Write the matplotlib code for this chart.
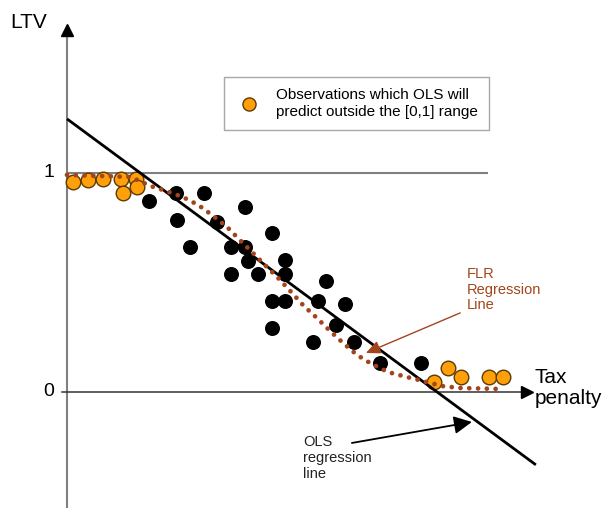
import matplotlib
matplotlib.use("Agg")
import matplotlib.pyplot as plt

plt.rcParams['font.family'] = ['Liberation Sans', 'DejaVu Sans']

# ---- data (x: tax penalty, arbitrary units; y: LTV) ----
black_x = [1.76, 2.33, 2.93, 2.36, 3.81, 3.21, 2.63, 3.51, 3.81, 4.39, 3.88, 4.67, 3.51,
           4.09, 4.67, 5.55, 4.39, 4.67, 5.37, 5.95, 4.39, 5.76, 5.27, 6.15, 6.70, 7.58]
black_y = [0.872, 0.909, 0.909, 0.785, 0.845, 0.776, 0.662, 0.662, 0.662, 0.726, 0.598, 0.603, 0.539,
           0.539, 0.539, 0.507, 0.416, 0.416, 0.416, 0.402, 0.292, 0.306, 0.228, 0.228, 0.132, 0.132]

orange_x = [0.13, 0.45, 0.77, 1.16, 1.20, 1.48, 1.50, 7.86, 8.16, 8.44, 9.04, 9.34]
orange_y = [0.960, 0.968, 0.973, 0.973, 0.909, 0.973, 0.936, 0.046, 0.110, 0.068, 0.068, 0.068]

ols_x = [0.0, 10.04]
ols_y = [1.247, -0.333]

flr_x = [0.0, 1.35, 1.56, 1.78, 2.12, 2.48, 2.81, 3.13, 3.43, 3.70, 3.98, 4.26, 4.54,
         4.82, 5.07, 5.35, 5.63, 5.91, 6.21, 6.49, 6.87, 7.28, 7.62, 8.03, 8.42, 9.21]
flr_y = [0.991, 0.982, 0.963, 0.941, 0.918, 0.890, 0.854, 0.804, 0.753, 0.694, 0.635, 0.575, 0.516,
         0.452, 0.393, 0.338, 0.279, 0.224, 0.169, 0.132, 0.091, 0.068, 0.050, 0.027, 0.018, 0.014]

legend_label = "Observations which OLS will\npredict outside the [0,1] range"

BROWN = '#a3451c'
ORANGE = '#ff9f0a'
GRAY = '#808080'

fig = plt.figure(figsize=(6.02, 5.08), dpi=100)
ax = fig.add_axes([0, 0, 1, 1])
ax.set_xlim(-1.435, 11.456)
ax.set_ylim(-0.530, 1.790)
ax.axis('off')

# axes lines
ax.plot([0, 0], [-0.53, 1.63], color=GRAY, lw=1.5, zorder=1)
ax.plot([0], [1.655], marker='^', ms=8.5, color='black', clip_on=False, zorder=1)
ax.plot([-0.1, 9.8], [0, 0], color='#333333', lw=1.1, zorder=1)
ax.plot([9.86], [0], marker='>', ms=8.5, color='black', clip_on=False, zorder=1)
ax.plot([0, 8.99], [1, 1], color=GRAY, lw=1.5, zorder=1)

# tick labels
ax.text(-0.27, 1.0, "1", fontsize=14, ha='right', va='center')
ax.text(-0.27, 0.0, "0", fontsize=14, ha='right', va='center')

# points
ax.plot(black_x, black_y, 'o', color='black', ms=10.8, mec='black', mew=0, zorder=3)
orange_pts, = ax.plot(orange_x, orange_y, 'o', color=ORANGE, ms=10.5, mec='#5c3a00', mew=1.0,
                      zorder=4, label=legend_label)

# regression lines
ax.plot(ols_x, ols_y, color='black', lw=2.0, zorder=5, solid_capstyle='butt')
ax.plot(flr_x, flr_y, color=BROWN, lw=3.4, linestyle=(0, (0.01, 1.85)),
        dash_capstyle='round', zorder=6)

# annotations
ax.text(8.57, 0.57, "FLR\nRegression\nLine", color=BROWN, fontsize=10.5, ha='left', va='top',
        linespacing=1.15)
ax.annotate('', xy=(6.40, 0.178), xytext=(8.42, 0.361),
            arrowprops=dict(arrowstyle='-|>,head_length=0.55,head_width=0.25', color=BROWN, lw=1.0,
                            shrinkA=0, shrinkB=0, mutation_scale=16), zorder=7)

ax.text(5.05, -0.198, "OLS\nregression\nline", color='#222222', fontsize=10.5, ha='left', va='top',
        linespacing=1.15)
ax.annotate('', xy=(8.67, -0.137), xytext=(6.10, -0.233),
            arrowprops=dict(arrowstyle='-|>,head_length=0.6,head_width=0.3', color='black', lw=1.3,
                            shrinkA=0, shrinkB=0, mutation_scale=18), zorder=7)

ax.text(-1.22, 1.662, "LTV", fontsize=15, ha='left', va='baseline')
ax.text(10.02, 0.11, "Tax\npenalty", fontsize=15, ha='left', va='top', linespacing=1.15)

leg = ax.legend(handles=[orange_pts], loc='upper left', bbox_to_anchor=(224 / 602, 1 - 77 / 508),
                bbox_transform=fig.transFigure, frameon=True, fancybox=False, framealpha=1,
                edgecolor='#a8a8a8', fontsize=11, borderaxespad=0, borderpad=0.75,
                handlelength=1.8, handletextpad=0.85, numpoints=1, markerscale=0.9)
leg.get_frame().set_linewidth(1.0)

fig.savefig('out.png', dpi=100)
